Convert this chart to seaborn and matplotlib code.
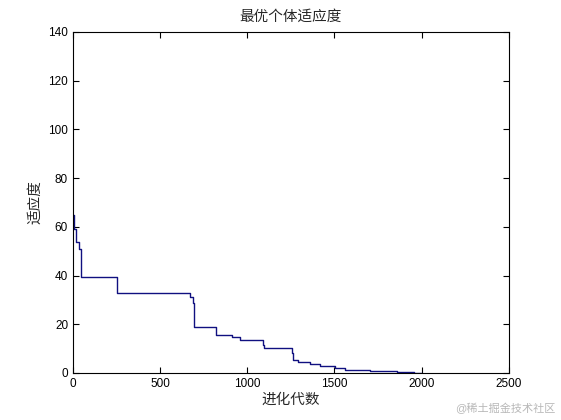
import matplotlib
matplotlib.use('Agg')
import matplotlib.pyplot as plt
import seaborn as sns
import pandas as pd

# 进化代数 (步进变化点) 与最优个体适应度
generations = [0, 5, 17, 36, 48, 251, 672, 686, 697, 820, 912, 960, 1088, 1096,
               1255, 1262, 1293, 1358, 1419, 1505, 1560, 1706, 1860, 1954, 2000]
fitness = [65.0, 59.0, 53.6, 50.8, 39.3, 32.7, 31.3, 28.9, 18.9, 15.6, 14.6, 13.4,
           11.5, 10.1, 8.0, 5.3, 4.5, 3.7, 3.0, 1.9, 1.4, 0.9, 0.3, 0.0, 0.0]
x_ticks = [0, 500, 1000, 1500, 2000, 2500]
y_ticks = [0, 20, 40, 60, 80, 100, 120, 140]

sns.set_style('ticks')
plt.rcParams['font.family'] = ['Liberation Sans', 'Noto Sans CJK SC', 'DejaVu Sans']
plt.rcParams['axes.unicode_minus'] = False

df = pd.DataFrame({'gen': generations, 'fit': fitness})

fig = plt.figure(figsize=(5.61, 4.2), dpi=100)
ax = fig.add_axes([0.13, 0.112, 0.777, 0.812])

sns.lineplot(data=df, x='gen', y='fit', ax=ax, drawstyle='steps-post',
             estimator=None, color='#101080', linewidth=1.0)

ax.set_xlim(0, 2500)
ax.set_ylim(0, 140)
ax.set_xticks(x_ticks)
ax.set_yticks(y_ticks)
ax.tick_params(direction='in', top=True, right=True, length=4, width=0.8,
               labelsize=8.5, colors='black')
for s in ax.spines.values():
    s.set_visible(True)
    s.set_linewidth(0.8)
    s.set_color('black')

ax.set_title('最优个体适应度', fontsize=10.5, pad=8)
ax.set_xlabel('进化代数', fontsize=10.5, labelpad=2)
ax.set_ylabel('适应度', fontsize=10.5, labelpad=4)

fig.text(0.99, 0.015, '@稀土掘金技术社区', ha='right', va='bottom',
         fontsize=8, color='#b8b8b8')

fig.savefig('out.png', dpi=100)
